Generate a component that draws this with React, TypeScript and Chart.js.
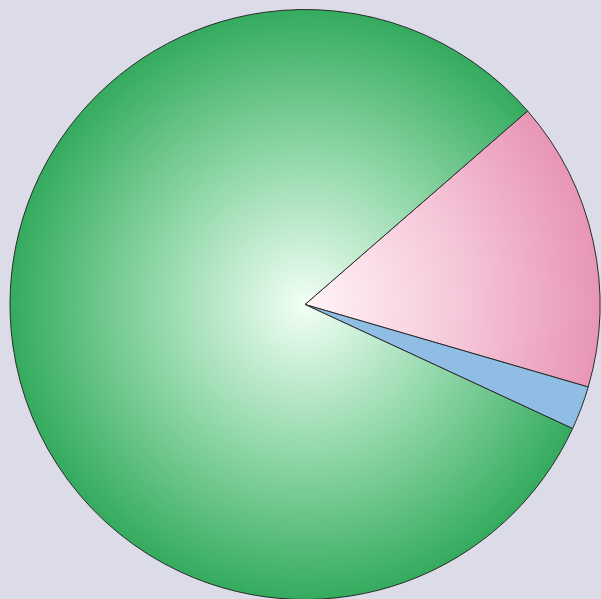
import React, { useEffect, useRef } from "react";
import { Chart, registerables } from "chart.js";

Chart.register(...registerables);

const categories = ["Pink", "Blue", "Green"];
const values = [15.9, 2.4, 81.7];
const innerColors = ["#fff4f8", "#8fbde3", "#f2fff5"];
const midColors = ["#f6cadb", "#8fbde3", "#92d8aa"];
const outerColors = ["#e895b6", "#8fbde3", "#34ab5e"];

export default function App() {
  const ref = useRef<HTMLCanvasElement | null>(null);
  useEffect(() => {
    document.body.style.margin = "0";
    document.body.style.background = "#dcdce9";
    document.body.style.overflow = "hidden";
    const canvas = ref.current!;
    const chart = new Chart(canvas, {
      type: "pie",
      data: {
        labels: categories,
        datasets: [
          {
            data: values,
            backgroundColor: (ctx: any) => {
              const c = ctx.chart;
              const area = c.chartArea;
              if (!area) return outerColors[ctx.dataIndex];
              const cx = (area.left + area.right) / 2;
              const cy = (area.top + area.bottom) / 2;
              const r = Math.min(area.right - area.left, area.bottom - area.top) / 2;
              const g = c.ctx.createRadialGradient(cx, cy, 0, cx, cy, r);
              const i = ctx.dataIndex;
              g.addColorStop(0, innerColors[i]);
              g.addColorStop(0.5, midColors[i]);
              g.addColorStop(1, outerColors[i]);
              return g;
            },
            borderColor: "#2a2a2a",
            borderWidth: 1,
            hoverBorderWidth: 1,
            hoverOffset: 0,
            offset: 0,
          },
        ],
      },
      options: {
        responsive: false,
        animation: false,
        rotation: 49.0,
        layout: { padding: 0 },
        plugins: {
          legend: { display: false },
          tooltip: { enabled: false },
        },
      },
    });
    return () => chart.destroy();
  }, []);
  return (
    <div
      style={{
        position: "fixed",
        left: 0,
        top: 0,
        width: 601,
        height: 599,
        overflow: "hidden",
        background: "#dcdce9",
      }}
    >
      <canvas
        ref={ref}
        width={610}
        height={591}
        style={{ position: "absolute", left: 0, top: 9, width: 610, height: 591 }}
      />
    </div>
  );
}
